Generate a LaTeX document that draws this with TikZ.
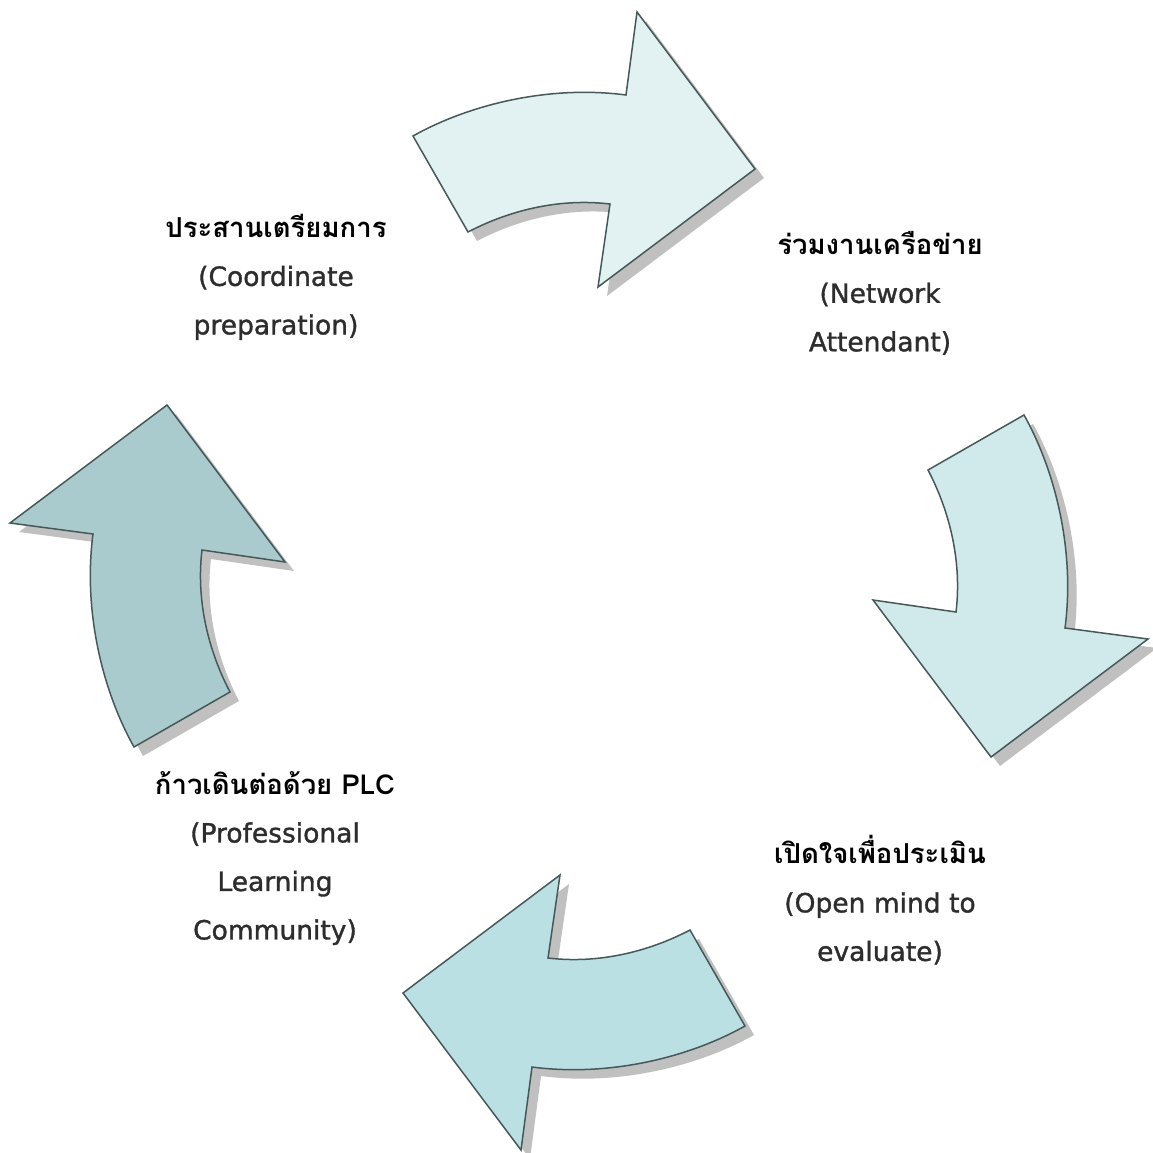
\documentclass[tikz,border=0pt]{standalone}
\usepackage{fontspec}
\setmainfont[Script=Thai]{Loma}
\newfontfamily\engfont[FakeBold=1.3]{DejaVu Sans}
\definecolor{fillA}{RGB}{226,242,243}
\definecolor{fillB}{RGB}{208,233,235}
\definecolor{fillC}{RGB}{187,224,227}
\definecolor{fillD}{RGB}{169,203,205}
\definecolor{edgec}{RGB}{70,88,88}
\definecolor{shadowc}{RGB}{192,192,192}
\definecolor{engc}{RGB}{45,45,45}
\newcommand{\eng}[1]{{\engfont\mdseries\fontsize{26.5}{48.5}\selectfont\color{engc}#1}}
\tikzset{
  arrowbody/.style={draw=edgec, line width=1.5pt, line join=miter},
  arrowshadow/.style={fill=shadowc, draw=none},
  lab/.style={align=center, font=\fontsize{27.5}{48.5}\selectfont\bfseries, inner sep=0pt},
}
\newcommand{\cyclearrow}[3]{%
  \begin{scope}[shift={(9,9)}]
    \begin{scope}[rotate around={#1:(579,581)}]
      \path[arrowshadow] (413,136) .. controls (470,104) and (550,85) .. (626,95) -- (637,12) -- (755,169) -- (598,287) -- (610,204) .. controls (560,198) and (510,210) .. (468,232) -- cycle;
    \end{scope}
  \end{scope}
  \begin{scope}[rotate around={#1:(579,581)}]
    \path[arrowbody, fill=#2] (413,136) .. controls (470,104) and (550,85) .. (626,95) -- (637,12) -- (755,169) -- (598,287) -- (610,204) .. controls (560,198) and (510,210) .. (468,232) -- cycle;
    \coordinate (#3) at (579,100);
  \end{scope}
}
\begin{document}
\begin{tikzpicture}[x=1pt,y=-1pt]
  \useasboundingbox (0,0) rectangle (1153,1153);
  \cyclearrow{0}{fillA}{a1}
  \cyclearrow{-90}{fillB}{a2}
  \cyclearrow{-180}{fillC}{a3}
  \cyclearrow{-270}{fillD}{a4}
  \node[lab] (t1) at (276,277) {ประสานเตรียมการ\\ \eng{(Coordinate}\\ \eng{preparation)}};
  \node[lab] (t2) at (880,293) {ร่วมงานเครือข่าย\\ \eng{(Network}\\ \eng{Attendant)}};
  \node[lab] (t3) at (880,900) {เปิดใจเพื่อประเมิน\\ \eng{(Open mind to}\\ \eng{evaluate)}};
  \node[lab] (t4) at (275,858) {ก้าวเดินต่อด้วย PLC\\ \eng{(Professional}\\ \eng{Learning}\\ \eng{Community)}};
\end{tikzpicture}
\end{document}
